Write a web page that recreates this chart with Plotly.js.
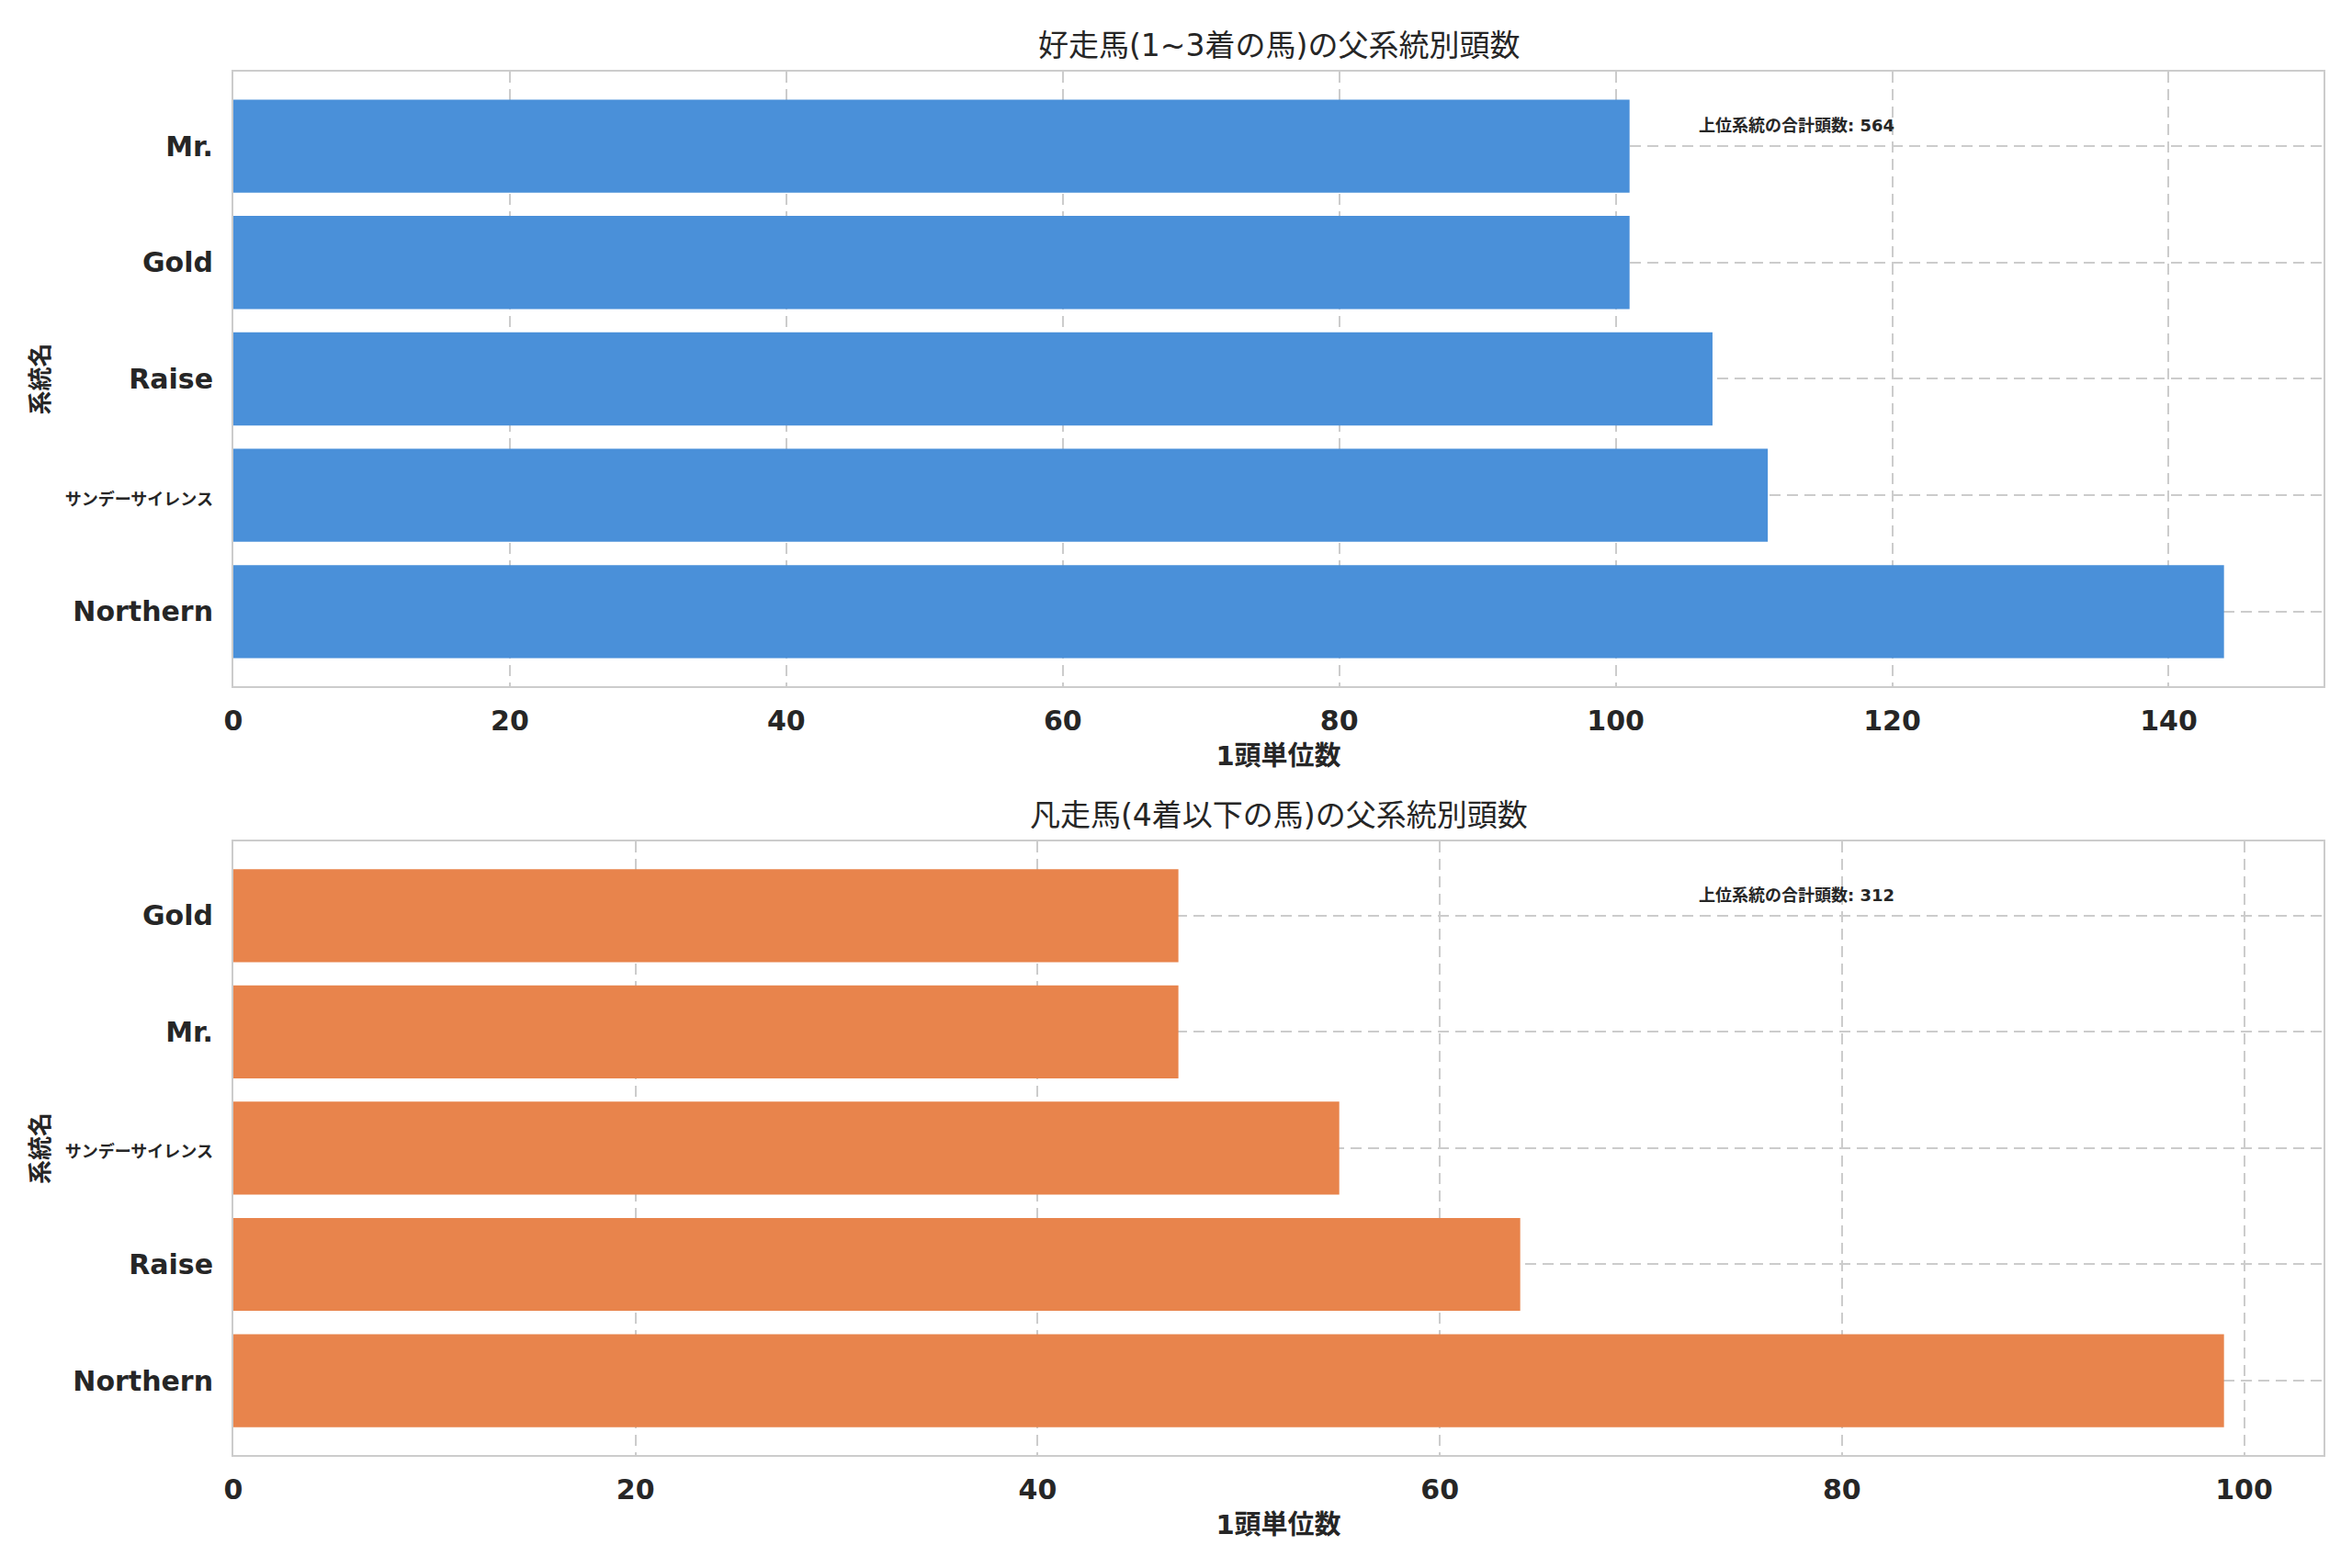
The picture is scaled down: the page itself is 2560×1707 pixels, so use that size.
<!DOCTYPE html>
<html>
<head>
<meta charset="utf-8">
<script src="https://cdn.plot.ly/plotly-3.0.1.min.js"></script>
<style>html,body{margin:0;padding:0;background:#fff;}</style>
</head>
<body>
<div id="chart" style="width:2560px;height:1707px;"></div>
<script>
// ---- data ----
const topCategories = ["Northern", "サンデーサイレンス", "Raise", "Gold", "Mr."];
const topValues = [144, 111, 107, 101, 101];
const bottomCategories = ["Northern", "Raise", "サンデーサイレンス", "Mr.", "Gold"];
const bottomValues = [99, 64, 55, 47, 47];
const topTitle = "好走馬(1~3着の馬)の父系統別頭数";
const bottomTitle = "凡走馬(4着以下の馬)の父系統別頭数";
const xLabel = "1頭単位数";
const yLabel = "系統名";
const totalLabel = "上位系統の合計頭数";

const sum = a => a.reduce((s, v) => s + v, 0);
// CJK glyphs are full-width: draw them a little smaller so the label fits the margin
const isCJK = s => /[\u3040-\u30ff\u4e00-\u9fff]/.test(s);
const tickText = cats => cats.map(c => isCJK(c) ? '<span style="font-size:18px">' + c + '</span>' : c);

const FONT = "DejaVu Sans, Noto Sans CJK JP, sans-serif";
const TXT = "#262626";
const GRID = "#cccccc";

const traces = [
  {type: "bar", orientation: "h", y: topCategories, x: topValues,
   xaxis: "x", yaxis: "y", marker: {color: "#4A90D9", line: {width: 0}}, hoverinfo: "x+y"},
  {type: "bar", orientation: "h", y: bottomCategories, x: bottomValues,
   xaxis: "x2", yaxis: "y2", marker: {color: "#E8844C", line: {width: 0}}, hoverinfo: "x+y"}
];

function xAxis(maxV, anchor) {
  return {
    anchor: anchor, domain: [0, 1],
    range: [0, maxV * 1.05], dtick: 20,
    showgrid: true, gridcolor: GRID, gridwidth: 2, griddash: "12px,7px",
    zeroline: false, showline: true, linecolor: GRID, linewidth: 2, mirror: true,
    ticks: "outside", ticklen: 10, tickcolor: "rgba(0,0,0,0)",
    tickfont: {family: FONT, size: 30, color: TXT, weight: "bold"},
    title: {text: xLabel, standoff: 12, font: {family: FONT, size: 29, color: TXT, weight: "bold"}}
  };
}
function yAxis(domain, anchor, cats) {
  return {
    anchor: anchor, domain: domain, type: "category",
    range: [-0.64, 4.64],
    tickvals: cats, ticktext: tickText(cats),
    showgrid: true, gridcolor: GRID, gridwidth: 2, griddash: "12px,7px",
    zeroline: false, showline: true, linecolor: GRID, linewidth: 2, mirror: true,
    ticks: "outside", ticklen: 14, tickcolor: "rgba(0,0,0,0)",
    tickfont: {family: FONT, size: 30, color: TXT, weight: "bold"},
    title: {text: yLabel, standoff: 10, font: {family: FONT, size: 26, color: TXT, weight: "bold"}}
  };
}

const layout = {
  width: 2560, height: 1707,
  margin: {l: 254, r: 31, t: 78, b: 123},
  paper_bgcolor: "#ffffff", plot_bgcolor: "#ffffff",
  showlegend: false, bargap: 0.2,
  font: {family: FONT, color: TXT},
  xaxis: xAxis(Math.max(...topValues), "y"),
  yaxis: yAxis([0.5558, 1], "x", topCategories),
  xaxis2: xAxis(Math.max(...bottomValues), "y2"),
  yaxis2: yAxis([0, 0.4436], "x2", bottomCategories),
  annotations: [
    {xref: "x domain", yref: "y domain", x: 0.5, y: 1.043, text: topTitle, showarrow: false,
     xanchor: "center", yanchor: "middle", font: {family: FONT, size: 33, color: TXT}},
    {xref: "x2 domain", yref: "y2 domain", x: 0.5, y: 1.043, text: bottomTitle, showarrow: false,
     xanchor: "center", yanchor: "middle", font: {family: FONT, size: 33, color: TXT}},
    {xref: "x domain", yref: "y domain", x: 0.70, y: 0.912, text: totalLabel + ": " + sum(topValues),
     showarrow: false, xanchor: "left", yanchor: "middle",
     font: {family: FONT, size: 18, color: TXT, weight: "bold"}},
    {xref: "x2 domain", yref: "y2 domain", x: 0.70, y: 0.912, text: totalLabel + ": " + sum(bottomValues),
     showarrow: false, xanchor: "left", yanchor: "middle",
     font: {family: FONT, size: 18, color: TXT, weight: "bold"}}
  ]
};

Plotly.newPlot("chart", traces, layout, {displayModeBar: false, staticPlot: true});
</script>
</body>
</html>
